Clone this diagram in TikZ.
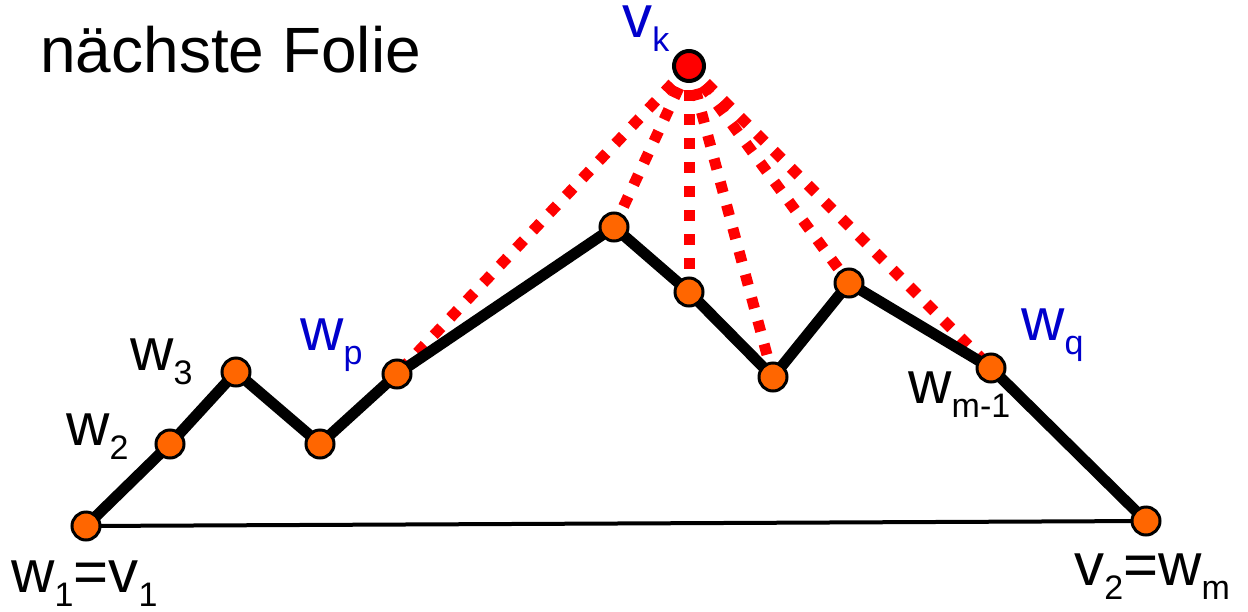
\documentclass[tikz,border=0pt]{standalone}
\usepackage{fontspec}
\setmainfont{Liberation Sans}
\usetikzlibrary{backgrounds}
\definecolor{ptOrange}{HTML}{FF6600}
\definecolor{ptRed}{HTML}{FF0000}
\definecolor{lblBlue}{HTML}{0000CC}
\newcommand{\lsub}[2]{#1\raisebox{-7pt}{\fontsize{17}{17}\selectfont #2}}
\tikzset{
  pt/.style={circle, draw=black, fill=ptOrange, line width=1.5pt, minimum size=14pt, inner sep=0pt},
  apex/.style={pt, fill=ptRed, line width=2pt, minimum size=15pt},
  chain/.style={line width=5.5pt, line join=round},
  base/.style={line width=2pt},
  sight/.style={ptRed, line width=5.5pt, dash pattern=on 5.5pt off 6.5pt},
  lbl/.style={anchor=base west, inner sep=0pt, font=\fontsize{30}{30}\selectfont},
  blbl/.style={lbl, text=lblBlue}
}
\begin{document}
\begin{tikzpicture}[x=0.5pt,y=-0.5pt]
  \useasboundingbox (0,0) rectangle (1248,611);
  % points of the polygon chain
  \node[pt] (w1) at (86,526) {};
  \node[pt] (w2) at (170,444) {};
  \node[pt] (w3) at (236,372) {};
  \node[pt] (w4) at (320,444) {};
  \node[pt] (wp) at (397,374) {};
  \node[pt] (w6) at (614,227) {};
  \node[pt] (w7) at (689,292) {};
  \node[pt] (w8) at (773,377) {};
  \node[pt] (w9) at (849,283) {};
  \node[pt] (wq) at (991,368) {};
  \node[pt] (wm) at (1146,521) {};
  \node[apex] (vk) at (689,66) {};
  % edges
  \begin{scope}[on background layer]
    \draw[base] (w1.center) -- (wm.center);
    \foreach \t in {wp,w6,w7,w8,w9,wq}
      \draw[sight] (vk.center) -- (\t.center);
    \draw[chain] (w1.center) -- (w2.center) -- (w3.center) -- (w4.center) -- (wp.center)
      -- (w6.center) -- (w7.center) -- (w8.center) -- (w9.center) -- (wq.center) -- (wm.center);
  \end{scope}
  % labels
  \node[lbl, font=\fontsize{32}{32}\selectfont] (title) at (40,72) {nächste Folie};
  \node[blbl] (lvk) at (622,37) {\lsub{v}{k}};
  \node[blbl] (lwp) at (300,350) {\lsub{w}{p}};
  \node[blbl] (lwq) at (1021,340) {\lsub{w}{q}};
  \node[lbl] (lw3) at (130,370) {\lsub{w}{3}};
  \node[lbl] (lw2) at (66,445) {\lsub{w}{2}};
  \node[lbl] (lw1) at (11,592) {\lsub{w}{1}=\lsub{v}{1}};
  \node[lbl] (lwm1) at (908,403) {\lsub{w}{m-1}};
  \node[lbl] (lv2) at (1074,585) {\lsub{v}{2}=\lsub{w}{m}};
\end{tikzpicture}
\end{document}
